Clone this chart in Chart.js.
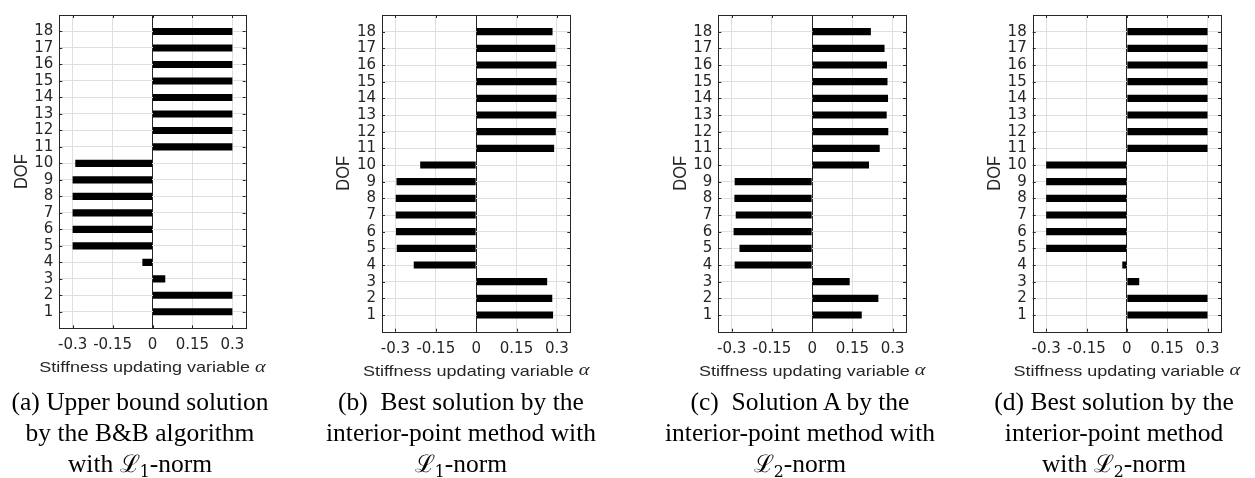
<!DOCTYPE html>
<html>
<head>
<meta charset="utf-8">
<script src="https://cdn.jsdelivr.net/npm/chart.js@4.4.1/dist/chart.umd.min.js"></script>
<style>
  html, body { margin: 0; padding: 0; background: #fff; }
  body { width: 1255px; height: 478px; position: relative; overflow: hidden; }
  canvas.layer { position: absolute; left: 0; top: 0; }
  .cap { position: absolute; top: 386px; width: 340px; text-align: center;
         font-family: "Liberation Serif", "Times New Roman", serif; font-size: 25.5px;
         line-height: 31px; color: #000; white-space: nowrap; }
  .L { font-family: "DejaVu Serif", "Liberation Serif", serif; font-size: 0.95em; }
  .cap sub { font-family: "DejaVu Serif", serif; font-size: 0.62em; vertical-align: -0.3em; line-height: 0; }
</style>
</head>
<body>
<canvas class="layer" id="c0" width="1255" height="478"></canvas>
<canvas class="layer" id="c1" width="1255" height="478"></canvas>
<canvas class="layer" id="c2" width="1255" height="478"></canvas>
<canvas class="layer" id="c3" width="1255" height="478"></canvas>

<div class="cap" style="left:-30px">(a) Upper bound solution<br>by the B&amp;B algorithm<br>with <span class="L">ℒ</span><sub>1</sub>-norm</div>
<div class="cap" style="left:291px">(b)&nbsp; Best solution by the<br>interior-point method with<br><span class="L">ℒ</span><sub>1</sub>-norm</div>
<div class="cap" style="left:630px">(c)&nbsp; Solution A by the<br>interior-point method with<br><span class="L">ℒ</span><sub>2</sub>-norm</div>
<div class="cap" style="left:944px">(d) Best solution by the<br>interior-point method<br>with <span class="L">ℒ</span><sub>2</sub>-norm</div>

<script>
// ---------------- data ----------------
const dof = [1, 2, 3, 4, 5, 6, 7, 8, 9, 10, 11, 12, 13, 14, 15, 16, 17, 18];
const dofLabels = ['1','2','3','4','5','6','7','8','9','10','11','12','13','14','15','16','17','18'];
const xTickValues = [-0.3, -0.15, 0, 0.15, 0.3];
const xTickLabels = ['-0.3', '-0.15', '0', '0.15', '0.3'];
const xTitle = 'Stiffness updating variable ';
const xTitleSymbol = 'α';
const yTitle = 'DOF';

const alphaA = [0.30, 0.30, 0.048, -0.038, -0.30, -0.30, -0.30, -0.30, -0.30, -0.29,
                0.30, 0.30, 0.30, 0.30, 0.30, 0.30, 0.30, 0.30];
const alphaB = [0.286, 0.283, 0.264, -0.232, -0.295, -0.298, -0.299, -0.299, -0.296, -0.208,
                0.290, 0.296, 0.298, 0.299, 0.299, 0.298, 0.294, 0.284];
const alphaC = [0.185, 0.247, 0.140, -0.289, -0.271, -0.293, -0.285, -0.290, -0.289, 0.212,
                0.252, 0.284, 0.278, 0.283, 0.281, 0.279, 0.270, 0.219];
const alphaD = [0.30, 0.30, 0.046, -0.017, -0.30, -0.30, -0.30, -0.30, -0.30, -0.30,
                0.30, 0.30, 0.30, 0.30, 0.30, 0.30, 0.30, 0.30];

const series = [alphaA, alphaB, alphaC, alphaD];

// ---------------- layout (plot boxes in page pixels) ----------------
const boxes = [
  { l: 59.3,   r: 245.7, t: 10, b: 328.3 },
  { l: 382.0,  r: 570.3, t: 10, b: 331.7 },
  { l: 718.3,  r: 906.0, t: 10, b: 331.7 },
  { l: 1032.7, r: 1221.0, t: 10, b: 331.7 }
];
const W = 1255, H = 478;
const yAxisW = 47.2;
const xAxisH = 49.6;
const STRETCH = 1.2;   // reference text is horizontally stretched

const INK = '#262626';
const GRID = '#dfdfdf';

const framePlugin = {
  id: 'frame',
  afterDraw(chart) {
    const { ctx, chartArea: a, scales } = chart;
    const xs = scales.x, ys = scales.y;
    const tl = 3;
    ctx.save();
    ctx.strokeStyle = INK;
    ctx.lineWidth = 1;
    ctx.beginPath();
    xs.ticks.forEach(t => {
      const p = Math.round(xs.getPixelForValue(t.value)) + 0.5;
      ctx.moveTo(p, a.top); ctx.lineTo(p, a.top + tl);
      ctx.moveTo(p, a.bottom); ctx.lineTo(p, a.bottom - tl);
    });
    ys.ticks.forEach(t => {
      const p = Math.round(ys.getPixelForValue(t.value)) + 0.5;
      ctx.moveTo(a.left, p); ctx.lineTo(a.left + tl, p);
      ctx.moveTo(a.right, p); ctx.lineTo(a.right - tl, p);
    });
    ctx.stroke();
    ctx.strokeRect(Math.round(a.left) + 0.5, Math.round(a.top) + 0.5,
                   Math.round(a.right) - Math.round(a.left), Math.round(a.bottom) - Math.round(a.top));

    // axis titles (drawn as text, stretched like the reference)
    ctx.fillStyle = INK;
    ctx.textBaseline = 'middle';
    // x title
    const fMain = '15px "Liberation Sans", Arial, sans-serif';
    const fSym = 'italic 17px "Liberation Serif", "DejaVu Serif", serif';
    ctx.font = fMain; const w1 = ctx.measureText(xTitle).width;
    ctx.font = fSym;  const w2 = ctx.measureText(xTitleSymbol).width;
    const total = (w1 + w2) * STRETCH;
    const cx = (a.left + a.right) / 2, cy = a.bottom + 40;
    ctx.save();
    ctx.translate(cx - total / 2, cy);
    ctx.scale(STRETCH, 1);
    ctx.textAlign = 'left';
    ctx.font = fMain; ctx.fillText(xTitle, 0, 0);
    ctx.font = fSym;  ctx.fillText(xTitleSymbol, w1, -1);
    ctx.restore();
    // y title
    ctx.save();
    ctx.translate(a.left - 37.6, (a.top + a.bottom) / 2);
    ctx.rotate(-Math.PI / 2);
    ctx.scale(1, 1.12);
    ctx.textAlign = 'center';
    ctx.font = '16.5px "Liberation Sans", Arial, sans-serif';
    ctx.fillText(yTitle, 0, 0);
    ctx.restore();
    ctx.restore();
  }
};

series.forEach((vals, k) => {
  const bx = boxes[k];
  new Chart(document.getElementById('c' + k), {
    type: 'bar',
    data: {
      datasets: [{
        data: dof.map((d, i) => ({ x: vals[i], y: d })),
        backgroundColor: '#000',
        borderWidth: 0,
        categoryPercentage: 1,
        barPercentage: 0.43
      }]
    },
    options: {
      indexAxis: 'y',
      responsive: false,
      animation: false,
      events: [],
      layout: {
        padding: {
          left: bx.l - yAxisW,
          right: W - bx.r,
          top: bx.t,
          bottom: H - bx.b - xAxisH
        }
      },
      plugins: { legend: { display: false }, tooltip: { enabled: false } },
      scales: {
        x: {
          type: 'linear',
          min: -0.35, max: 0.35,
          afterBuildTicks: s => { s.ticks = xTickValues.map(v => ({ value: v })); },
          afterFit: s => { s.height = xAxisH; },
          ticks: {
            autoSkip: false, maxRotation: 0, padding: 8, color: INK,
            font: { family: 'DejaVu Sans', size: 15 },
            callback: (v, i) => xTickLabels[i]
          },
          grid: {
            drawTicks: false,
            color: c => (c.tick && c.tick.value === 0) ? INK : GRID,
            lineWidth: 1
          },
          border: { display: false },
          title: { display: false }
        },
        y: {
          type: 'linear',
          min: 0, max: 19,
          offset: false,
          afterBuildTicks: s => { s.ticks = dof.map(v => ({ value: v })); },
          afterFit: s => { s.width = yAxisW; },
          ticks: {
            autoSkip: false, padding: 6, color: INK,
            font: { family: 'DejaVu Sans', size: 15 },
            callback: (v, i) => dofLabels[i]
          },
          grid: { drawTicks: false, color: GRID, lineWidth: 1, offset: false },
          border: { display: false },
          title: { display: false }
        }
      }
    },
    plugins: [framePlugin]
  });
});
</script>
</body>
</html>
